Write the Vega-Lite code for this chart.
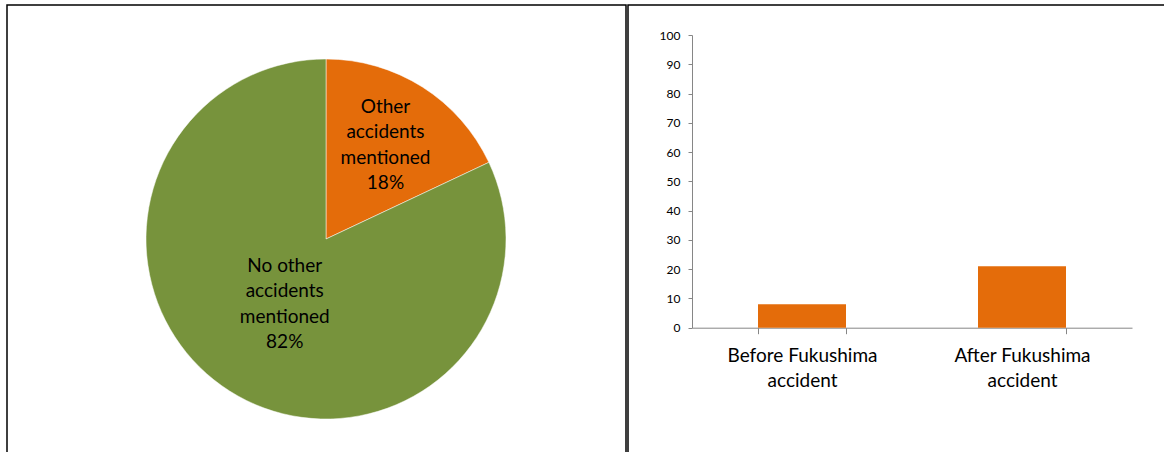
{
  "$schema": "https://vega.github.io/schema/vega-lite/v6.json",
  "padding": {"left": 6, "top": 4, "right": 0, "bottom": 0},
  "background": "white",
  "spacing": 0,
  "config": {"view": {"stroke": "#000000", "strokeWidth": 1.5}, "font": "Lato"},
  "datasets": {
    "pie": [
      {"category": "Other accidents mentioned", "value": 18, "label": ["Other", "accidents", "mentioned", "18%"]},
      {"category": "No other accidents mentioned", "value": 82, "label": ["No other", "accidents", "mentioned", "82%"]}
    ],
    "bars": [
      {"period": "Before Fukushima accident", "pct": 8},
      {"period": "After Fukushima accident", "pct": 21}
    ]
  },
  "hconcat": [
    {
      "width": 619,
      "height": 470,
      "data": {"name": "pie"},
      "encoding": {
        "x": {"datum": 0, "type": "quantitative", "scale": {"domain": [-1, 1], "range": [0, 638]}, "axis": null},
        "y": {"datum": 0, "type": "quantitative", "scale": {"domain": [-1, 1], "range": [468, 0]}, "axis": null}
      },
      "layer": [
        {
          "mark": {"type": "arc", "outerRadius": 180, "stroke": "#ffffff", "strokeWidth": 0.5},
          "encoding": {
            "theta": {"field": "value", "type": "quantitative", "stack": true},
            "order": {"field": "category", "sort": "descending"},
            "color": {"field": "category", "type": "nominal", "scale": {"domain": ["Other accidents mentioned", "No other accidents mentioned"], "range": ["#E46C0A", "#77933C"]}, "legend": null}
          }
        },
        {
          "mark": {"type": "text", "fontSize": 19, "color": "#000000", "lineHeight": 25.5, "align": "center", "baseline": "middle", "dy": -38.5},
          "encoding": {
            "theta": {"field": "value", "type": "quantitative", "stack": true},
            "order": {"field": "category", "sort": "descending"},
            "radius": {"field": "value", "type": "quantitative", "scale": {"type": "linear", "domain": [18, 82], "range": [111, 77], "zero": false}},
            "text": {"field": "label"}
          }
        }
      ]
    },
    {
      "width": 541,
      "height": 470,
      "data": {"name": "bars"},
      "mark": {"type": "bar", "color": "#E46C0A"},
      "encoding": {
        "x": {
          "field": "period", "type": "nominal", "sort": null, "title": null,
          "scale": {"range": [64, 504], "paddingInner": 0.6, "paddingOuter": 0.3},
          "axis": {
            "orient": "bottom", "offset": -147.3, "labelAngle": 0,
            "domainColor": "#868686", "domainWidth": 1, "tickColor": "#868686", "tickSize": 6, "tickBand": "extent",
            "labelFontSize": 19, "labelColor": "#000000", "labelPadding": 13, "labelLineHeight": 25,
            "labelExpr": "indexof(datum.label, ' accident') > 0 ? [replace(datum.label, ' accident', ''), 'accident'] : ''"
          }
        },
        "y": {
          "field": "pct", "type": "quantitative", "title": null,
          "scale": {"domain": [0, 100], "range": [322.7, 30], "nice": false},
          "axis": {
            "offset": -64, "values": [0, 10, 20, 30, 40, 50, 60, 70, 80, 90, 100], "grid": false,
            "domainColor": "#868686", "tickColor": "#868686", "tickSize": 4,
            "labelFontSize": 12, "labelColor": "#000000", "labelPadding": 8
          }
        }
      }
    }
  ]
}
